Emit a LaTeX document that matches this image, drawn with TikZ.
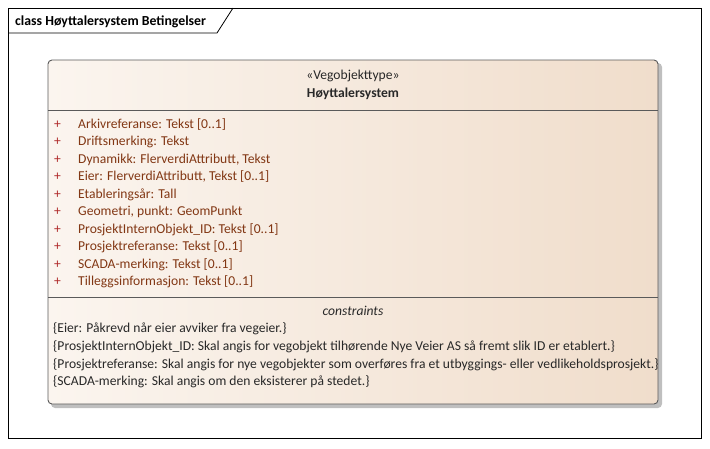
\documentclass[tikz,border=0pt]{standalone}
\usepackage{fontspec}
\setmainfont{Carlito}
\definecolor{attrcol}{RGB}{130,55,20}
\definecolor{pluscol}{RGB}{175,40,40}
\definecolor{boxleft}{RGB}{251,245,239}
\definecolor{boxright}{RGB}{240,221,203}
\definecolor{edgecol}{RGB}{90,90,90}
\definecolor{txtcol}{RGB}{40,40,40}
\begin{document}
\begin{tikzpicture}[x=1pt,y=-1pt,
  attr/.style={anchor=base west,inner sep=0pt,font=\fontsize{13.6}{15}\selectfont,text=attrcol},
  plus/.style={anchor=base west,inner sep=0pt,font=\fontsize{13.6}{15}\selectfont,text=pluscol},
  cons/.style={anchor=base west,inner sep=0pt,font=\fontsize{13.6}{15}\selectfont,text=txtcol}]
\useasboundingbox (0,0) rectangle (710,448);
% frame
\draw[line width=1pt] (8,8) rectangle (701,438);
\draw[line width=0.8pt] (8,33) -- (217,33) -- (233,8);
\node[anchor=base west,inner sep=0pt,font=\fontsize{13.8}{16}\selectfont\bfseries] (title) at (15,25) {class Høyttalersystem Betingelser};
% shadow
\fill[black!25,rounded corners=4pt] (51,63) rectangle (662,408);
% box
\shade[left color=boxleft,right color=boxright,rounded corners=4pt] (48,60) rectangle (658,404);
\draw[edgecol,line width=0.9pt,rounded corners=4pt] (48,60) rectangle (658,404);
\draw[edgecol,line width=0.9pt] (48,110) -- (658,110);
\draw[edgecol,line width=0.9pt] (48,297) -- (658,297);
\node[anchor=base,inner sep=0pt,font=\fontsize{13.6}{15}\selectfont,text=txtcol] (stereo) at (353,79) {«Vegobjekttype»};
\node[anchor=base,inner sep=0pt,font=\fontsize{13.6}{15}\selectfont\bfseries,text=txtcol] (name) at (353,97) {Høyttalersystem};
% attributes
\foreach \t [count=\i] in {Arkivreferanse: Tekst [0..1],
  Driftsmerking: Tekst,
  {Dynamikk: FlerverdiAttributt, Tekst},
  {Eier: FlerverdiAttributt, Tekst [0..1]},
  Etableringsår: Tall,
  {Geometri, punkt: GeomPunkt},
  ProsjektInternObjekt\_ID: Tekst [0..1],
  Prosjektreferanse: Tekst [0..1],
  SCADA-merking: Tekst [0..1],
  Tilleggsinformasjon: Tekst [0..1]} {
  \node[plus] (p\i) at (54,{128+(\i-1)*17.55}) {+};
  \node[attr] (a\i) at (78,{128+(\i-1)*17.55}) {\t};
}
% constraints
\node[anchor=base,inner sep=0pt,font=\fontsize{13.6}{15}\selectfont\itshape,text=txtcol] (ct) at (353,315) {constraints};
\node[cons] (c1) at (53,332) {\{Eier: Påkrevd når eier avviker fra vegeier.\}};
\node[cons] (c2) at (53,350) {\{ProsjektInternObjekt\_ID: Skal angis for vegobjekt tilhørende Nye Veier AS så fremt slik ID er etablert.\}};
\node[cons] (c3) at (53,368) {\{Prosjektreferanse: Skal angis for nye vegobjekter som overføres fra et utbyggings- eller vedlikeholdsprosjekt.\}};
\node[cons] (c4) at (53,385) {\{SCADA-merking: Skal angis om den eksisterer på stedet.\}};
\end{tikzpicture}
\end{document}
